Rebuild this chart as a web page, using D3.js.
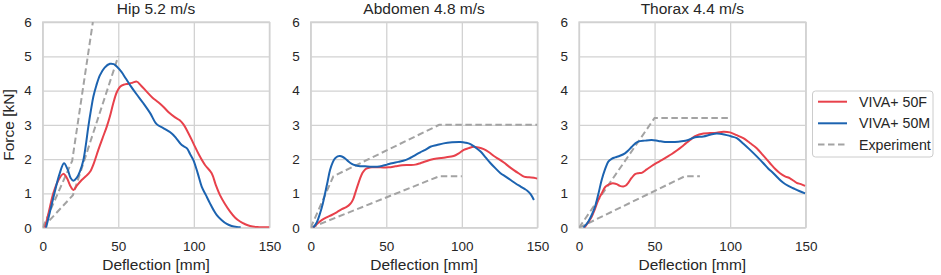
<!DOCTYPE html>
<html><head><meta charset="utf-8">
<script src="https://cdn.jsdelivr.net/npm/d3@7"></script>
<style>body{margin:0;background:#fff;} text{font-family:"Liberation Sans",Arial,sans-serif;fill:#262626;}</style>
</head><body><svg id="c" width="941" height="275"></svg>
<script>
const panelTitles = ["Hip 5.2 m/s", "Abdomen 4.8 m/s", "Thorax 4.4 m/s"];
const xTicks = [0, 50, 100, 150];
const yTicks = [0, 1, 2, 3, 4, 5, 6];
const seriesNames = ["VIVA+ 50F", "VIVA+ 50M", "Experiment"];

// Hip
const hipF = [[1.5,0],[4,0.45],[7,1.0],[10,1.35],[13.6,1.57],[16,1.45],[18.5,1.2],[20.3,1.1],[23,1.25],[25.8,1.39],[28.5,1.5],[31.3,1.63],[34,1.9],[36.8,2.27],[39.5,2.6],[42.4,2.95],[44.5,3.25],[46.7,3.63],[49,3.95],[51.2,4.11],[53.5,4.17],[56.7,4.2],[59.5,4.23],[62.2,4.26],[65,4.15],[68.8,3.97],[72.5,3.8],[76.5,3.66],[79.8,3.53],[83.5,3.36],[87.6,3.22],[90.5,3.14],[93,3.02],[96.5,2.75],[99.7,2.46],[103.5,2.12],[107.4,1.83],[111.8,1.59],[114.5,1.25],[117.3,0.95],[120.5,0.7],[124,0.47],[127.2,0.3],[130.6,0.18],[134,0.1],[137.2,0.05],[142,0.02],[150,0.01]];
const hipM = [[2.2,0],[5,0.5],[8,1.05],[11,1.55],[14.1,1.88],[16.5,1.7],[18.5,1.45],[20.3,1.37],[22.5,1.45],[24.7,1.65],[26.9,1.97],[28.5,2.4],[30.2,2.95],[32,3.45],[33.5,3.82],[35.5,4.15],[37.9,4.45],[41,4.67],[44.5,4.78],[47,4.77],[49,4.7],[52,4.55],[55,4.35],[57.8,4.16],[62,3.9],[66.6,3.63],[71,3.35],[75.4,3.02],[80,2.9],[85.4,2.75],[88.5,2.6],[92,2.41],[95.3,2.32],[97.5,2.15],[99.7,1.97],[102.5,1.6],[105.2,1.2],[108,0.95],[110.7,0.71],[113,0.52],[115.2,0.37],[118.5,0.22],[121.8,0.11],[125,0.05],[128.4,0.02],[131,0.01]];
const hipExpA = [[0,0],[19.5,1.95],[33.2,6.0]];
const hipExpB = [[0,0],[20,0.95],[50,5.0]];

// Abdomen
const abdF = [[1.7,0],[4.5,0.12],[7.3,0.22],[10.5,0.3],[13.9,0.37],[17.2,0.45],[20.6,0.54],[23.5,0.6],[26.1,0.69],[28,0.82],[29.4,1.0],[31,1.22],[32.7,1.44],[34.3,1.6],[36,1.7],[38,1.74],[40.5,1.76],[46,1.76],[51.6,1.76],[56,1.79],[60.4,1.82],[65,1.83],[69.2,1.84],[72.5,1.88],[75.8,1.93],[80,1.99],[83.6,2.02],[89,2.05],[94.6,2.09],[98,2.17],[101.3,2.27],[104.5,2.32],[107.9,2.36],[111,2.34],[114.5,2.29],[118,2.2],[121.2,2.09],[124.5,2.0],[127.8,1.9],[131,1.79],[134.4,1.68],[137.8,1.58],[141.1,1.49],[144.5,1.47],[147.7,1.46],[150,1.43]];
const abdM = [[1.7,0],[4,0.15],[6.2,0.42],[8,0.7],[9.5,1.0],[11.2,1.35],[12.8,1.68],[14.5,1.9],[16.1,2.02],[17.8,2.08],[19.4,2.09],[21,2.07],[22.8,2.02],[25,1.93],[27.2,1.86],[29.5,1.82],[31.6,1.8],[36,1.79],[40.5,1.78],[44,1.78],[47.1,1.8],[50.5,1.84],[53.7,1.88],[58,1.92],[62.6,1.97],[66,2.04],[69.2,2.12],[72.5,2.2],[75.8,2.27],[79.2,2.36],[83.5,2.41],[88,2.46],[93.5,2.49],[99,2.5],[102.5,2.48],[105.7,2.44],[109,2.34],[112.4,2.22],[115.7,2.05],[119,1.88],[122.3,1.73],[125.6,1.59],[129,1.49],[132.3,1.39],[135.6,1.29],[138.9,1.2],[141.5,1.13],[143.3,1.08],[145.5,0.98],[147.7,0.81]];
const abdExpA = [[0,0],[15,1.5],[85,3.0],[150,3.0]];
const abdExpB = [[0,0],[85,1.5],[100,1.5]];

// Thorax
const thoF = [[3.6,0],[6,0.15],[8.4,0.32],[10.6,0.55],[12.8,0.81],[15,1.0],[17.2,1.18],[19.4,1.25],[21.6,1.29],[23.3,1.29],[24.9,1.27],[27,1.22],[29.3,1.2],[31,1.23],[32.6,1.31],[34.8,1.45],[37.1,1.56],[39.3,1.59],[41.5,1.6],[44.8,1.7],[48.1,1.8],[51.4,1.89],[54.7,1.97],[58,2.06],[61.4,2.15],[64.7,2.25],[68,2.36],[70.7,2.46],[73.5,2.56],[76.8,2.67],[79.5,2.72],[82.3,2.75],[86.7,2.76],[91.1,2.77],[95.5,2.8],[99.9,2.78],[104.3,2.7],[108.7,2.61],[113.1,2.47],[117.6,2.32],[122,2.1],[126.4,1.88],[129.7,1.72],[133,1.59],[136.3,1.5],[139.6,1.44],[142,1.37],[144,1.31],[146.8,1.27],[149.6,1.22]];
const thoM = [[2.9,0],[4.5,0.08],[6.2,0.18],[8.4,0.37],[10.6,0.61],[12.8,0.98],[15,1.39],[17.2,1.7],[19.4,1.93],[21.6,2.01],[23.8,2.05],[27.1,2.1],[30.4,2.17],[32.6,2.25],[34.9,2.36],[37,2.45],[39.2,2.51],[43.5,2.54],[48.1,2.56],[52.5,2.53],[56.9,2.5],[60.2,2.5],[63.5,2.5],[67.9,2.52],[72.3,2.56],[76.8,2.64],[82.3,2.66],[86.7,2.71],[91.1,2.75],[94.4,2.73],[97.7,2.7],[101,2.66],[104.4,2.61],[108.8,2.45],[113.2,2.27],[117.6,2.08],[122,1.88],[125.3,1.72],[128.6,1.59],[131.9,1.44],[135.2,1.31],[138.5,1.22],[141.8,1.15],[145.7,1.07],[149.6,1.0]];
const thoExpA = [[0,0],[50,3.2],[100,3.2]];
const thoExpB = [[0,0],[70,1.5],[80,1.5]];

const panelF = [hipF, abdF, thoF];
const panelM = [hipM, abdM, thoM];
const panelExp = [[hipExpA, hipExpB], [abdExpA, abdExpB], [thoExpA, thoExpB]];

const colors = {F: "#e8414b", M: "#1c63b0", E: "#a3a3a3"};
const gridColor = "#d2d2d2";
const panelLeft = [42.7, 310.7, 579];
const panelW = 226.7, plotTop = 22, plotBottom = 227.7;

const svg = d3.select("#c");
const defs = svg.append("defs");

panelTitles.forEach((title, i) => {
  const x = d3.scaleLinear().domain([0, 150]).range([panelLeft[i], panelLeft[i] + panelW]);
  const y = d3.scaleLinear().domain([0, 6]).range([plotBottom, plotTop]);
  const g = svg.append("g");
  const clipId = "clip" + i;
  defs.append("clipPath").attr("id", clipId).append("rect")
    .attr("x", x(0)).attr("y", y(6)).attr("width", x(150) - x(0)).attr("height", y(0) - y(6));

  const xAxis = d3.axisBottom(x).tickValues(xTicks).tickFormat(d3.format("d"))
    .tickSize(-(plotBottom - plotTop)).tickPadding(14);
  const yAxis = d3.axisLeft(y).tickValues(yTicks).tickFormat(d3.format("d"))
    .tickSize(-panelW).tickPadding(11);
  const gx = g.append("g").attr("transform", `translate(0,${plotBottom})`).call(xAxis);
  const gy = g.append("g").attr("transform", `translate(${panelLeft[i]},0)`).call(yAxis);
  [gx, gy].forEach(a => {
    a.select(".domain").remove();
    a.selectAll(".tick line").attr("stroke", gridColor).attr("stroke-width", 1.3);
    a.selectAll(".tick text").attr("font-size", 13.5).attr("fill", "#262626")
      .attr("font-family", "Liberation Sans, Arial, sans-serif");
  });
  g.append("rect").attr("x", x(0)).attr("y", y(6)).attr("width", x(150) - x(0)).attr("height", y(0) - y(6))
    .attr("fill", "none").attr("stroke", gridColor).attr("stroke-width", 1.3);

  const line = d3.line().x(d => x(d[0])).y(d => y(d[1])).curve(d3.curveCatmullRom.alpha(0.5));
  const lin = d3.line().x(d => x(d[0])).y(d => y(d[1]));
  const plot = g.append("g").attr("clip-path", `url(#${clipId})`);
  panelExp[i].forEach(e => {
    plot.append("path").attr("d", lin(e)).attr("fill", "none").attr("stroke", colors.E)
      .attr("stroke-width", 2).attr("stroke-dasharray", "6.5,3.5");
  });
  plot.append("path").attr("d", line(panelF[i])).attr("fill", "none").attr("stroke", colors.F).attr("stroke-width", 2);
  plot.append("path").attr("d", line(panelM[i])).attr("fill", "none").attr("stroke", colors.M).attr("stroke-width", 2);

  svg.append("text").attr("x", (x(0) + x(150)) / 2).attr("y", 13.5).attr("text-anchor", "middle")
    .attr("font-size", 15.5).text(title);
  svg.append("text").attr("x", (x(0) + x(150)) / 2).attr("y", 270).attr("text-anchor", "middle")
    .attr("font-size", 15.5).text("Deflection [mm]");
});

svg.append("text").attr("transform", "translate(14,125) rotate(-90)").attr("text-anchor", "middle")
  .attr("font-size", 15.5).text("Force [kN]");

const lg = svg.append("g");
lg.append("rect").attr("x", 812.5).attr("y", 91).attr("width", 120.5).attr("height", 66).attr("rx", 3)
  .attr("fill", "#fff").attr("stroke", "#cccccc").attr("stroke-width", 1);
const legColors = [colors.F, colors.M, colors.E];
const legY = [101.7, 123.3, 144.5];
seriesNames.forEach((n, k) => {
  lg.append("line").attr("x1", 818).attr("x2", 847).attr("y1", legY[k]).attr("y2", legY[k])
    .attr("stroke", legColors[k]).attr("stroke-width", 2)
    .attr("stroke-dasharray", k === 2 ? "6.5,3.5" : null);
  lg.append("text").attr("x", 859).attr("y", legY[k]).attr("dy", "0.36em").attr("font-size", 14.2).text(n);
});
</script></body></html>
